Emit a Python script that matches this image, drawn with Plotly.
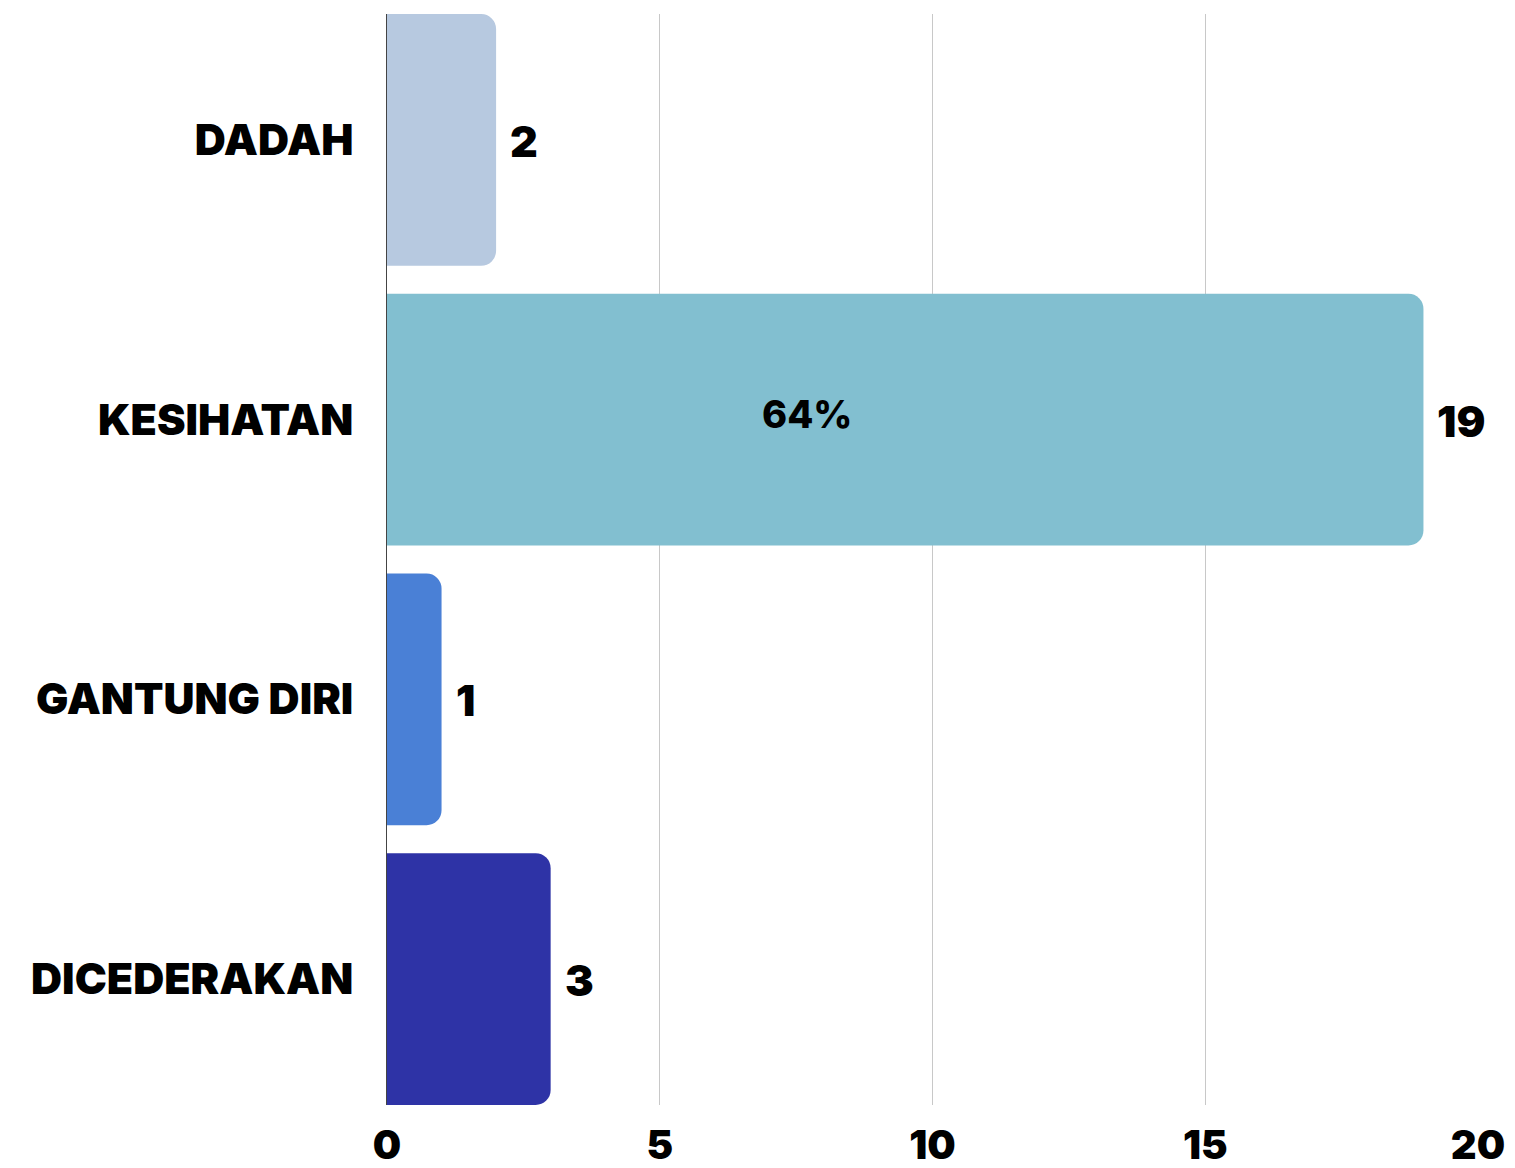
import plotly.graph_objects as go

categories = ["DADAH", "KESIHATAN", "GANTUNG DIRI", "DICEDERAKAN"]
values = [2, 19, 1, 3]
colors = ["#b7c9e0", "#82bfd0", "#4a80d6", "#2e33a6"]
inner_label_cat = "KESIHATAN"
inner_label_text = "64%"
inner_label_x = 7.7
x_ticks = [0, 5, 10, 15, 20]

FONT = "Inter"

fig = go.Figure()
fig.add_trace(go.Bar(
    y=categories, x=values, orientation="h",
    marker=dict(color=colors, line=dict(width=0)),
    width=0.9, hoverinfo="skip",
))

for c, v in zip(categories, values):
    fig.add_annotation(x=v, y=c, text=str(v), showarrow=False,
                       xanchor="left", xshift=12, yshift=-1,
                       font=dict(family=FONT, size=43, color="#000000", weight=900))

fig.add_annotation(x=inner_label_x, y=inner_label_cat, text=inner_label_text,
                   showarrow=False, xanchor="center", yshift=6,
                   font=dict(family=FONT, size=38, color="#000000", weight=800))

fig.update_layout(
    width=1507, height=1160,
    margin=dict(l=379, r=37, t=6, b=63, autoexpand=False),
    paper_bgcolor="white", plot_bgcolor="white",
    showlegend=False,
    barcornerradius=15,
    xaxis=dict(range=[0, 20], tickvals=x_ticks, ticktext=[str(t) for t in x_ticks],
               showgrid=True, gridcolor="#c8c8c8", gridwidth=1,
               zeroline=False, showline=False, ticks="", automargin=False,
               ticklabelstandoff=13,
               tickfont=dict(family=FONT, size=40, color="#000000", weight=900)),
    yaxis=dict(range=[3.45, -0.45], categoryorder="array", categoryarray=categories,
               showgrid=False, zeroline=False, showline=True, linecolor="#444444", linewidth=1,
               ticks="", ticklabelstandoff=24, automargin=False,
               tickfont=dict(family=FONT, size=43, color="#000000", weight=900)),
)

fig.write_html("out.html")
